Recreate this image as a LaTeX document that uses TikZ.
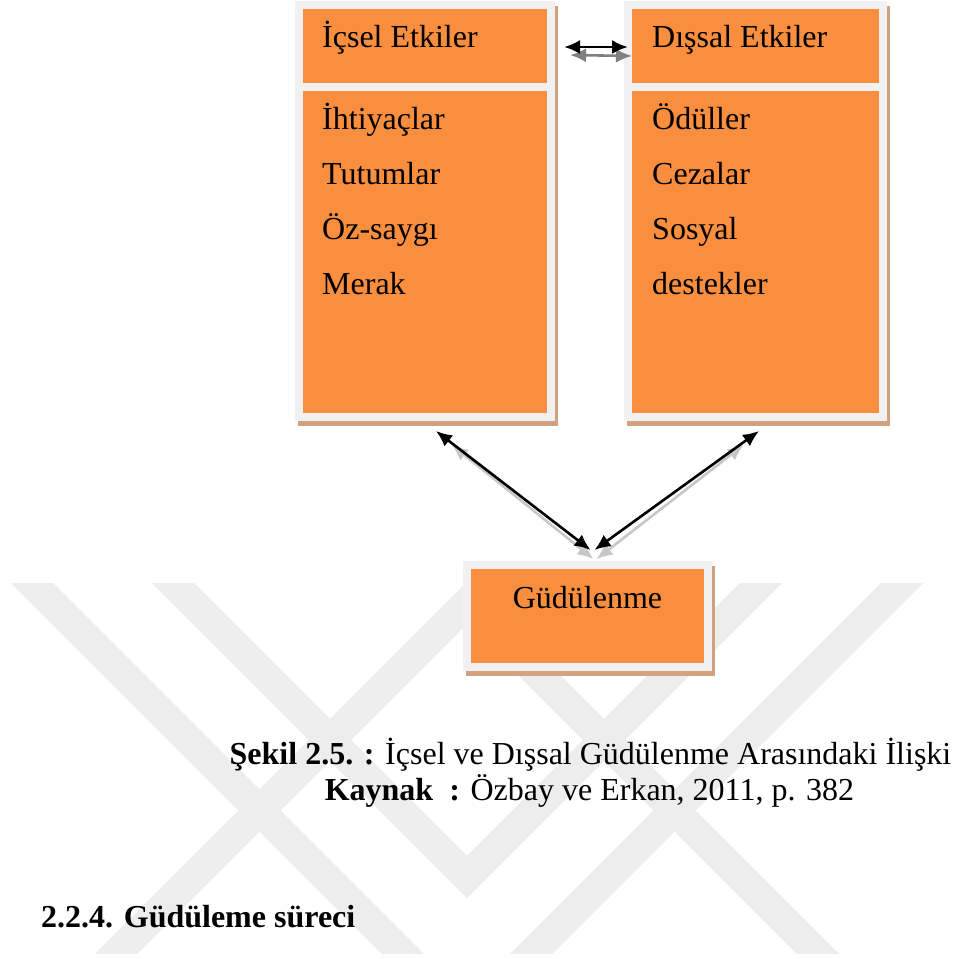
\documentclass[tikz,border=0pt]{standalone}
\usepackage{fontspec}
\setmainfont{Liberation Serif}
\usetikzlibrary{arrows.meta}

\definecolor{kututuruncu}{RGB}{249,142,62}
\definecolor{kutugri}{RGB}{241,241,241}
\definecolor{kutugolge}{RGB}{210,162,128}
\definecolor{filigran}{RGB}{237,237,237}

\begin{document}
\begin{tikzpicture}[x=1pt,y=-1pt,
  kutu/.style={fill=kututuruncu, draw=kutugri, line width=8pt, inner sep=0pt,
    preaction={fill=kutugolge, draw=kutugolge, line width=8pt,
      transform canvas={xshift=3pt,yshift=-5pt}}},
  yazi/.style={font=\fontsize{32}{38}\selectfont, inner sep=0pt, anchor=base west},
  ciftok/.style={{Latex[length=16pt,width=14pt]}-{Latex[length=16pt,width=14pt]}, line width=2.6pt},
  golgeok/.style={ciftok, draw=#1, fill=#1},
  serit/.style={draw=filigran, line width=30pt, line join=miter}]

\useasboundingbox (0,0) rectangle (979,958);

% Watermark chevrons
\begin{scope}
  \clip (0,583) rectangle (979,953);
  \draw[serit] (9,560) -- (467,1018) -- (925,560);
  \draw[serit] (150,560) -- (467,877) -- (784,560);
  \draw[serit] (90,980) -- (467,603) -- (844,980);
\end{scope}

% Left box
\node[kutu, minimum width=252pt, minimum height=82pt] (icbaslik) at (425,46) {};
\node[kutu, minimum width=252pt, minimum height=330pt] (icgovde) at (425,252) {};

% Right box
\node[kutu, minimum width=255pt, minimum height=82pt] (disbaslik) at (755.5,46) {};
\node[kutu, minimum width=255pt, minimum height=330pt] (disgovde) at (755.5,252) {};

% Bottom box
\node[kutu, minimum width=241pt, minimum height=102pt] (gud) at (587.5,616) {};

% Box texts
\node[yazi] (icsel) at (322,48) {İçsel Etkiler};
\node[yazi] (dissal) at (652,48) {Dışsal Etkiler};
\foreach \metin [count=\i] in {İhtiyaçlar, Tutumlar, Öz-saygı, Merak}
  \node[yazi] (ic\i) at (322,{74+55*\i}) {\metin};
\foreach \metin [count=\i] in {Ödüller, Cezalar, Sosyal, destekler}
  \node[yazi] (dis\i) at (652,{74+55*\i}) {\metin};
\node[yazi, anchor=base] (gudyazi) at (587.5,608) {Güdülenme};

% Arrows (grey copy first)
\draw[golgeok=gray] ([shift={(15pt,-9pt)}]icbaslik.east) -- ([shift={(8pt,-10pt)}]disbaslik.west);
\draw[ciftok] ([shift={(9pt,-1pt)}]icbaslik.east) -- ([shift={(4pt,-1pt)}]disbaslik.west);

\draw[golgeok=black!22] ([shift={(27pt,-24pt)}]icgovde.south) -- ([shift={(6pt,2pt)}]gud.north);
\draw[golgeok=black!22] ([shift={(-12pt,-24pt)}]disgovde.south) -- ([shift={(9pt,2pt)}]gud.north);
\draw[ciftok] ([shift={(11pt,-10pt)}]icgovde.south) -- ([shift={(3pt,11pt)}]gud.north);
\draw[ciftok] ([shift={(3.5pt,-10pt)}]disgovde.south) -- ([shift={(7pt,11pt)}]gud.north);

% Caption
\node[yazi, anchor=base] (sekil) at (590.5,764) {\textbf{Şekil 2.5. :} İçsel ve Dışsal Güdülenme Arasındaki İlişki};
\node[yazi, anchor=base] (kaynak) at (589.5,800) {\textbf{Kaynak~~:} Özbay ve Erkan, 2011, p. 382};

% Section heading
\node[yazi] (altbaslik) at (41,927) {\textbf{2.2.4. Güdüleme süreci}};

\end{tikzpicture}
\end{document}
